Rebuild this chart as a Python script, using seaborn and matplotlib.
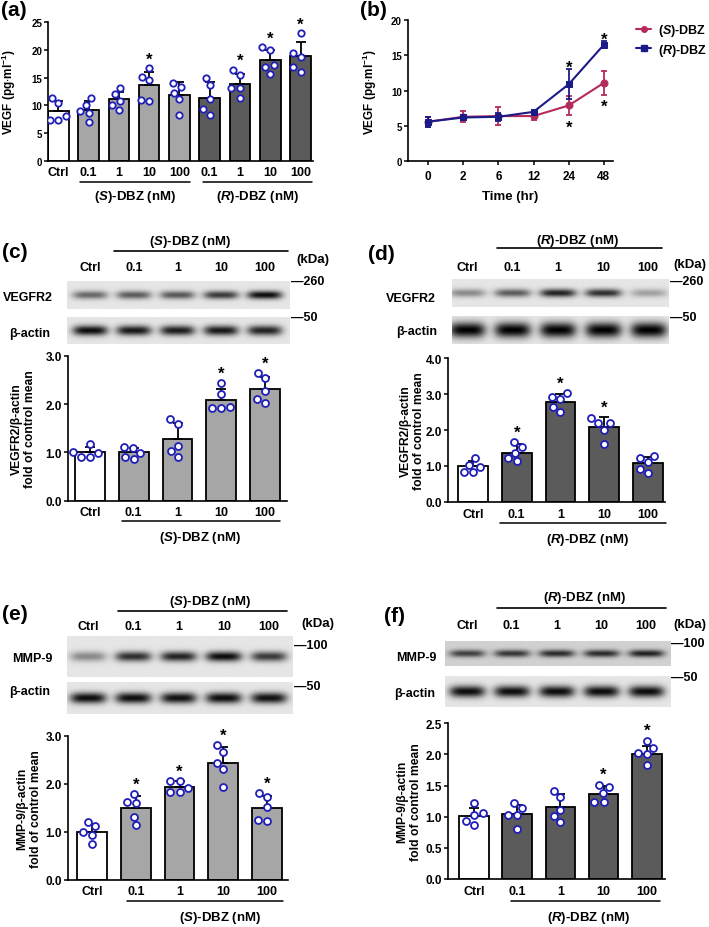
import numpy as np
import pandas as pd
import seaborn as sns
import matplotlib.pyplot as plt
import matplotlib.transforms as mtransforms
from matplotlib.lines import Line2D

# ---------------- data ----------------
doses = ["0.1", "1", "10", "100"]

# (a) VEGF secretion, bars = mean, sd, individual points
a_groups = ["Ctrl", "S0.1", "S1", "S10", "S100", "R0.1", "R1", "R10", "R100"]
a_ticks = ["Ctrl"] + doses + doses
a_mean = [9.0, 9.2, 11.1, 13.7, 11.8, 11.4, 13.9, 18.1, 18.9]
a_sd = [1.7, 1.6, 1.4, 2.4, 2.5, 2.8, 1.8, 1.9, 2.6]
a_pts = [[11.4, 10.4, 8.0, 7.3, 7.3],
         [11.3, 10.1, 8.9, 8.7, 7.0],
         [13.1, 12.0, 10.8, 10.1, 9.2],
         [16.7, 15.2, 14.5, 10.7, 11.0],
         [13.3, 14.0, 12.3, 11.1, 8.3],
         [14.9, 13.6, 11.1, 8.3, 9.3],
         [16.4, 15.5, 13.1, 13.1, 11.3],
         [20.0, 20.5, 17.3, 16.9, 15.7],
         [23.0, 19.4, 18.7, 16.1, 16.9]]
a_sig = [0, 0, 0, 1, 0, 0, 1, 1, 1]

# (b) time course
times = ["0", "2", "6", "12", "24", "48"]
s_mean = [5.6, 6.3, 6.4, 6.4, 7.9, 11.1]
s_sd = [0.7, 0.8, 1.3, 0.5, 1.4, 1.7]
r_mean = [5.6, 6.2, 6.3, 7.0, 10.9, 16.5]
r_sd = [0.7, 0.4, 0.6, 0.2, 2.1, 0.5]
b_sig = [0, 0, 0, 0, 1, 1]

groups5 = ["Ctrl"] + doses

# (c) VEGFR2 / (S)-DBZ
c_mean = [1.0, 1.0, 1.28, 2.08, 2.31]
c_sd = [0.12, 0.10, 0.33, 0.23, 0.24]
c_pts = [[1.17, 0.99, 1.01, 0.90, 0.90],
         [1.12, 1.10, 0.99, 0.86, 0.90],
         [1.59, 1.69, 1.14, 1.03, 0.90],
         [2.43, 2.21, 1.93, 1.92, 1.92],
         [2.65, 2.54, 2.26, 2.03, 2.10]]
c_sig = [0, 0, 0, 1, 1]
c_band = [0.55, 0.6, 0.62, 0.75, 0.95]
c_actin = [0.95, 0.9, 0.88, 0.9, 0.85]

# (d) VEGFR2 / (R)-DBZ
d_mean = [1.0, 1.37, 2.79, 2.07, 1.08]
d_sd = [0.14, 0.24, 0.21, 0.30, 0.18]
d_pts = [[1.23, 0.97, 1.04, 0.82, 0.84],
         [1.68, 1.54, 1.37, 1.13, 1.21],
         [3.02, 2.91, 2.85, 2.49, 2.63],
         [2.33, 2.19, 2.19, 2.00, 1.61],
         [1.29, 1.21, 1.11, 0.80, 0.91]]
d_sig = [0, 1, 1, 1, 0]
d_band = [0.4, 0.6, 0.85, 0.8, 0.3]
d_actin = [1.0, 1.0, 1.0, 1.0, 1.0]

# (e) MMP-9 / (S)-DBZ
e_mean = [1.0, 1.49, 1.94, 2.43, 1.50]
e_sd = [0.17, 0.26, 0.12, 0.33, 0.24]
e_pts = [[1.21, 1.11, 1.00, 0.94, 0.74],
         [1.78, 1.61, 1.60, 1.31, 1.13],
         [2.05, 2.05, 1.91, 1.82, 1.83],
         [2.81, 2.67, 2.44, 2.31, 1.94],
         [1.80, 1.72, 1.51, 1.23, 1.24]]
e_sig = [0, 1, 1, 1, 1]
e_band = [0.4, 0.8, 0.85, 0.95, 0.75]
e_actin = [0.95, 0.95, 0.93, 0.95, 0.93]

# (f) MMP-9 / (R)-DBZ
f_mean = [1.01, 1.04, 1.15, 1.36, 2.00]
f_sd = [0.13, 0.15, 0.22, 0.14, 0.13]
f_pts = [[1.22, 1.06, 1.02, 0.93, 0.86],
         [1.22, 1.14, 1.02, 1.02, 0.81],
         [1.42, 1.32, 0.91, 1.01, 1.11],
         [1.48, 1.51, 1.38, 1.24, 1.24],
         [2.22, 2.11, 2.03, 2.01, 1.83]]
f_sig = [0, 0, 0, 1, 1]
f_band = [0.7, 0.75, 0.8, 0.8, 0.85]
f_actin = [0.95, 0.95, 0.95, 0.95, 0.95]

# ---------------- style ----------------
sns.set_theme(style="ticks", rc={"axes.edgecolor": "black", "xtick.color": "black",
                                 "ytick.color": "black", "text.color": "black",
                                 "axes.labelcolor": "black"})
plt.rcParams['font.family'] = ['Liberation Sans', 'DejaVu Sans']
plt.rcParams['font.weight'] = 'bold'
plt.rcParams['axes.labelweight'] = 'bold'
plt.rcParams['mathtext.fontset'] = 'custom'
plt.rcParams['mathtext.rm'] = 'Liberation Sans:bold'
plt.rcParams['mathtext.it'] = 'Liberation Sans:bold:italic'
plt.rcParams['mathtext.bf'] = 'Liberation Sans:bold'

WHITE, LIGHT, DARK = "#ffffff", "#a6a6a6", "#5b5b5b"
BLUE = "#1f1fb8"
S_COL, R_COL = "#b52a5c", "#1b1b87"
S_LAB = r"($S$)-DBZ (nM)"
R_LAB = r"($R$)-DBZ (nM)"

W, H = 709, 928
fig = plt.figure(figsize=(W / 100, H / 100), dpi=100)


def P(x, y):
    return x / W, 1 - y / H


def add_ax(x0, y0, x1, y1):
    return fig.add_axes([x0 / W, 1 - y1 / H, (x1 - x0) / W, (y1 - y0) / H])


def ftext(x, y, s, ha='left', fs=9, **kw):
    fig.text(*P(x, y), s, ha=ha, va='center', fontsize=fs, **kw)


def fline(x0, x1, y):
    fig.add_artist(Line2D([x0 / W, x1 / W], [1 - y / H] * 2, color='black', lw=1.2))


def star(ax, x, y, fs=12):
    ax.annotate('*', xy=(x, y), xytext=(0, -0.55 * fs), textcoords='offset points',
                ha='center', va='baseline', fontsize=fs, fontweight='bold',
                annotation_clip=False)


def bar_panel(box, xlim, groups, ticks, means, sds, pts, sig, colors, ymax, ystep,
              ylabel, lab_x, fmt, ytick_fs, xtick_fs, size, ylab_fs=8.7):
    ax = add_ax(*box)
    sns.barplot(x=groups, y=means, hue=groups, order=groups, hue_order=groups,
                palette=colors, legend=False, errorbar=None, width=0.68,
                edgecolor='black', linewidth=1.3, ax=ax, zorder=1)
    n = len(groups)
    ax.errorbar(np.arange(n), means, yerr=[np.zeros(n), sds], fmt='none',
                ecolor='black', elinewidth=1.3, capsize=3.5, capthick=1.3, zorder=3)
    df = pd.DataFrame({'g': np.repeat(groups, [len(p) for p in pts]),
                       'v': np.concatenate(pts)})
    sns.swarmplot(data=df, x='g', y='v', order=groups, color='white',
                  edgecolor=BLUE, linewidth=1.3, size=size, ax=ax, zorder=4)
    for i, s in enumerate(sig):
        if s:
            top = max(means[i] + sds[i], max(pts[i]))
            star(ax, i, top + 0.1 * ymax)
    ax.set_xlim(*xlim)
    ax.set_ylim(0, ymax)
    yt = np.arange(0, ymax + 1e-9, ystep)
    ax.set_yticks(yt, [fmt.format(v) for v in yt])
    ax.set_xticks(np.arange(n), ticks)
    ax.tick_params(axis='y', length=3, width=1.1, labelsize=ytick_fs, pad=1.5)
    ax.tick_params(axis='x', length=0, labelsize=xtick_fs, pad=4)
    ax.set_xlabel('')
    ax.set_ylabel(ylabel, fontsize=ylab_fs, linespacing=1.15)
    ax.yaxis.set_label_coords(lab_x, 0.5)
    sns.despine(ax=ax)
    for sp in ['left', 'bottom']:
        ax.spines[sp].set_linewidth(1.2)
    return ax


def under_group(ax, x0, x1, ly, label, lx, ty, fs=9.5):
    tr = mtransforms.blended_transform_factory(ax.transData, ax.transAxes)
    ax.plot([x0, x1], [ly, ly], color='black', lw=1.1, transform=tr, clip_on=False)
    ax.text(lx, ty, label, transform=tr, ha='center', va='center', fontsize=fs)


def blot(box, lane0, sp, amps, thick, bg):
    x0, y0, x1, y1 = box
    ax = add_ax(*box)
    lo, hi = (x0 - lane0) / sp, (x1 - lane0) / sp
    xs = np.linspace(lo, hi, 300)
    ys = np.linspace(-1, 1, 50)
    X, Y = np.meshgrid(xs, ys)
    dark = np.zeros_like(X)
    for i, a in enumerate(amps):
        dark += a * np.exp(-np.abs((X - i) / 0.4) ** 4) * np.exp(-(Y / thick) ** 2)
    img = bg * (1 - np.clip(dark, 0, 1))
    ax.imshow(img, cmap='gray', vmin=0, vmax=1, aspect='auto',
              extent=(lo, hi, -1, 1), interpolation='bilinear')
    ax.set_xlim(lo, hi)
    ax.axis('off')
    return ax


def lane_labels(ax, y):
    tr = mtransforms.blended_transform_factory(ax.transData, fig.transFigure)
    for i, t in enumerate(groups5):
        ax.text(i, 1 - y / H, t, transform=tr, ha='center', va='center', fontsize=9)


# ---------------- (a) ----------------
a_cols = [WHITE] + [LIGHT] * 4 + [DARK] * 4
axa = bar_panel((48.3, 23.3, 313, 161.7), (-0.33, 8.41), a_groups, a_ticks, a_mean,
                a_sd, a_pts, a_sig, a_cols, 25, 5, r"VEGF (pg$\cdot$ml$^{-1}$)",
                -0.113, "{:.0f}", 7, 9, 4.6, ylab_fs=8.5)
under_group(axa, 0.73, 4.36, -0.154, S_LAB, 2.54, -0.255)
under_group(axa, 4.79, 8.38, -0.154, R_LAB, 6.58, -0.255)
ftext(1, 11, "(a)", fs=15)

# ---------------- (b) ----------------
axb = add_ax(408, 21, 613, 162.3)
pos = np.arange(len(times))
for mean, sd, col, mk in [(s_mean, s_sd, S_COL, 'o'), (r_mean, r_sd, R_COL, 's')]:
    sns.lineplot(x=pos, y=mean, color=col, marker=mk, markersize=5,
                 markeredgecolor=col, linewidth=1.5, ax=axb)
    axb.errorbar(pos, mean, yerr=sd, fmt='none', ecolor=col, elinewidth=1.3,
                 capsize=2.5, capthick=1.3)
for i, s in enumerate(b_sig):
    if s:
        star(axb, i, r_mean[i] + r_sd[i] + 1.0)
        star(axb, i, s_mean[i] - s_sd[i] - 1.0)
axb.set_xlim(-0.57, 5.26)
axb.set_ylim(0, 20)
axb.set_yticks(np.arange(0, 21, 5))
axb.set_xticks(pos, times)
axb.tick_params(axis='y', length=3, width=1.1, labelsize=7, pad=1.5)
axb.tick_params(axis='x', length=3, width=1.1, labelsize=8.5, pad=3)
axb.set_xlabel("Time (hr)", fontsize=9.5, labelpad=6)
axb.set_ylabel(r"VEGF (pg$\cdot$ml$^{-1}$)", fontsize=8.5)
axb.yaxis.set_label_coords(-0.141, 0.5)
sns.despine(ax=axb)
for sp in ['left', 'bottom']:
    axb.spines[sp].set_linewidth(1.2)
handles = [Line2D([], [], color=S_COL, marker='o', ms=4, lw=1.5),
           Line2D([], [], color=R_COL, marker='s', ms=4, lw=1.5)]
fig.legend(handles, [r"($S$)-DBZ", r"($R$)-DBZ"], loc='upper left',
           bbox_to_anchor=P(636, 23), frameon=False, handlelength=1.2,
           handletextpad=0.55, labelspacing=0.3, borderaxespad=0, borderpad=0,
           prop={'size': 9})
ftext(360, 11, "(b)", fs=15)

# ---------------- (c) ----------------
ftext(2, 253, "(c)", fs=15)
ftext(190, 242, S_LAB, ha='center', fs=9.5)
fline(114, 288, 252)
bt = blot((67, 282, 290, 310), 90, 43.75, c_band, 0.3, 0.9)
blot((67, 318, 290, 345), 90, 43.75, c_actin, 0.38, 0.9)
lane_labels(bt, 268)
ftext(313, 260, "(kDa)", ha='center', fs=9.5)
ftext(291, 282, "\u2014260")
ftext(291, 318, "\u201450")
ftext(3, 298, "VEGFR2")
ftext(9, 334, "\u03b2-actin")
axc = bar_panel((68, 356.7, 287, 501.7), (-0.5, 4.5), groups5, groups5, c_mean, c_sd,
                c_pts, c_sig, [WHITE] + [LIGHT] * 4, 3, 1,
                "VEGFR2/\u03b2-actin\nfold of control mean", -0.146, "{:.1f}", 8.5, 9, 5)
under_group(axc, 0.73, 4.34, -0.14, S_LAB, 2.51, -0.25)

# ---------------- (d) ----------------
ftext(368, 255, "(d)", fs=15)
ftext(578, 241, R_LAB, ha='center', fs=9.5)
fline(497, 662, 249)
bt = blot((452, 280, 668, 308), 467, 45.3, d_band, 0.3, 0.9)
blot((452, 317, 668, 345), 467, 45.3, d_actin, 0.55, 0.9)
lane_labels(bt, 268)
ftext(690, 265, "(kDa)", ha='center', fs=9.5)
ftext(670, 282, "\u2014260")
ftext(670, 318, "\u201450")
ftext(386, 299, "VEGFR2")
ftext(396, 332, "\u03b2-actin")
axd = bar_panel((448, 359, 665, 503), (-0.57, 4.39), groups5, groups5, d_mean, d_sd,
                d_pts, d_sig, [WHITE] + [DARK] * 4, 4, 1,
                "VEGFR2/\u03b2-actin\nfold of control mean", -0.106, "{:.1f}", 8.5, 9, 5)
under_group(axd, 0.62, 4.41, -0.146, R_LAB, 2.63, -0.257)

# ---------------- (e) ----------------
ftext(2, 615, "(e)", fs=15)
ftext(210, 602, S_LAB, ha='center', fs=9.5)
fline(118, 287, 612)
bt = blot((67, 637, 293, 678), 88, 45.3, e_band, 0.25, 0.9)
blot((67, 683, 293, 715), 88, 45.3, e_actin, 0.35, 0.9)
lane_labels(bt, 627)
ftext(318, 624, "(kDa)", ha='center', fs=9.5)
ftext(294, 646, "\u2014100")
ftext(294, 687, "\u201450")
ftext(12, 659, "MMP-9")
ftext(9, 692, "\u03b2-actin")
axe = bar_panel((68, 736.7, 288, 880.7), (-0.55, 4.48), groups5, groups5, e_mean, e_sd,
                e_pts, e_sig, [WHITE] + [LIGHT] * 4, 3, 1,
                "MMP-9/\u03b2-actin\nfold of control mean", -0.118, "{:.1f}", 8.5, 9, 5)
under_group(axe, 0.8, 4.37, -0.148, S_LAB, 2.93, -0.258)

# ---------------- (f) ----------------
ftext(384, 617, "(f)", fs=15)
ftext(585, 598, R_LAB, ha='center', fs=9.5)
fline(497, 666, 609)
bt = blot((445, 642, 670, 667), 467, 44.7, f_band, 0.3, 0.82)
blot((445, 677, 670, 708), 467, 44.7, f_actin, 0.38, 0.9)
lane_labels(bt, 626)
ftext(690, 625, "(kDa)", ha='center', fs=9.5)
ftext(671, 644, "\u2014100")
ftext(671, 678, "\u201450")
ftext(396, 658, "MMP-9")
ftext(394, 694, "\u03b2-actin")
axf = bar_panel((448, 724.3, 665, 880), (-0.6, 4.42), groups5, groups5, f_mean, f_sd,
                f_pts, f_sig, [WHITE] + [DARK] * 4, 2.5, 0.5,
                "MMP-9/\u03b2-actin\nfold of control mean", -0.12, "{:.1f}", 8.5, 9, 5)
under_group(axf, 0.86, 4.31, -0.141, R_LAB, 2.66, -0.244)

fig.savefig("out.png", dpi=100)
